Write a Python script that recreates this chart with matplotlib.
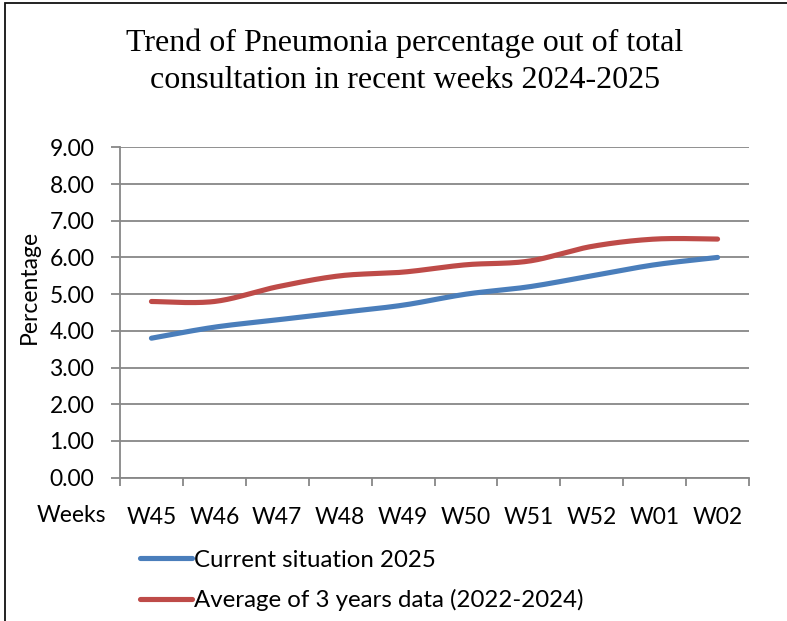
import numpy as np
import matplotlib
matplotlib.use("Agg")
import matplotlib.pyplot as plt
from matplotlib.patches import Rectangle
from matplotlib.ticker import FixedLocator, FormatStrFormatter

weeks = ["W45", "W46", "W47", "W48", "W49", "W50", "W51", "W52", "W01", "W02"]
current_2025 = [3.8, 4.1, 4.3, 4.5, 4.7, 5.0, 5.2, 5.5, 5.8, 6.0]
avg_3yr = [4.8, 4.8, 5.2, 5.5, 5.6, 5.8, 5.9, 6.3, 6.5, 6.5]

title = "Trend of Pneumonia percentage out of total\nconsultation in recent weeks 2024-2025"
series_names = ["Current situation 2025", "Average of 3 years data (2022-2024)"]
colors = ["#4A7EBB", "#BE4B48"]

W, H = 787, 621
fig = plt.figure(figsize=(W / 100, H / 100), dpi=100)

sans = ["Lato", "DejaVu Sans"]
serif = ["Liberation Serif", "DejaVu Serif"]


def smooth(y, n=30):
    # Excel-like Catmull-Rom smoothing through the data points
    x = np.arange(len(y), dtype=float)
    y = np.asarray(y, dtype=float)
    px = np.concatenate([[x[0]], x, [x[-1]]])
    py = np.concatenate([[y[0]], y, [y[-1]]])
    xs, ys = [], []
    for i in range(1, len(px) - 2):
        p0, p1, p2, p3 = (np.array([px[j], py[j]]) for j in (i - 1, i, i + 1, i + 2))
        c1 = p1 + (p2 - p0) / 6
        c2 = p2 - (p3 - p1) / 6
        t = np.linspace(0, 1, n)[:, None]
        b = (1 - t) ** 3 * p1 + 3 * (1 - t) ** 2 * t * c1 + 3 * (1 - t) * t ** 2 * c2 + t ** 3 * p2
        xs.append(b[:, 0]); ys.append(b[:, 1])
    return np.concatenate(xs), np.concatenate(ys)


left, right = 120 / W, 749 / W
bottom, top = 1 - 477.7 / H, 1 - 147.3 / H
ax = fig.add_axes([left, bottom, right - left, top - bottom])

grid_c = "#878787"
for i, (vals, name) in enumerate(zip([current_2025, avg_3yr], series_names)):
    sx, sy = smooth(vals)
    ax.plot(sx, sy, color=colors[i], lw=3.7, solid_capstyle="round", label=name, zorder=3)

ax.set_xlim(-0.5, len(weeks) - 0.5)
ax.set_ylim(0, 9)
ax.yaxis.set_major_locator(FixedLocator(np.arange(0, 10, 1)))
ax.yaxis.set_major_formatter(FormatStrFormatter("%.2f"))
ax.grid(axis="y", color=grid_c, lw=1.3, zorder=0)

ax.xaxis.set_major_locator(FixedLocator(np.arange(-0.5, len(weeks), 1)))
ax.xaxis.set_minor_locator(FixedLocator(np.arange(len(weeks))))
ax.set_xticklabels([""] * (len(weeks) + 1))
ax.set_xticks(np.arange(len(weeks)), labels=weeks, minor=True)

for s in ["top", "right"]:
    ax.spines[s].set_visible(False)
for s in ["left", "bottom"]:
    ax.spines[s].set_color(grid_c)
    ax.spines[s].set_linewidth(1.3)

ax.tick_params(axis="y", which="major", length=6.5, width=1.3, color=grid_c,
               labelsize=16.5, pad=12, labelcolor="black")
ax.tick_params(axis="x", which="major", length=6, width=1.3, color=grid_c)
ax.tick_params(axis="x", which="minor", length=0, labelsize=16.5, pad=21)
for lab in ax.get_yticklabels() + ax.get_xticklabels(minor=True):
    lab.set_family(sans)

fig.text(29 / W, 1 - 287 / H, "Percentage", rotation=90, ha="center", va="center",
         fontsize=16.5, family=sans)
fig.text(71 / W, 1 - 515 / H, "Weeks", ha="center", va="center", fontsize=16.5, family=sans)

fig.text(405 / W, 1 - 62 / H, title, ha="center", va="center", fontsize=23,
         family=serif, linespacing=1.38)

handles, labels = ax.get_legend_handles_labels()
fig.legend(handles, labels, loc="upper left", bbox_to_anchor=(130 / W, 1 - 540 / H),
           frameon=False, prop={"family": sans, "size": 17.3}, handlelength=2.2,
           handletextpad=0.05, labelspacing=0.78, borderaxespad=0)

fig.add_artist(Rectangle((5 / W, -0.05), 1.2, 1 - 3 / H + 0.05, transform=fig.transFigure,
                         fill=False, edgecolor="#111111", lw=1.3))

fig.savefig("out.png", dpi=100)
